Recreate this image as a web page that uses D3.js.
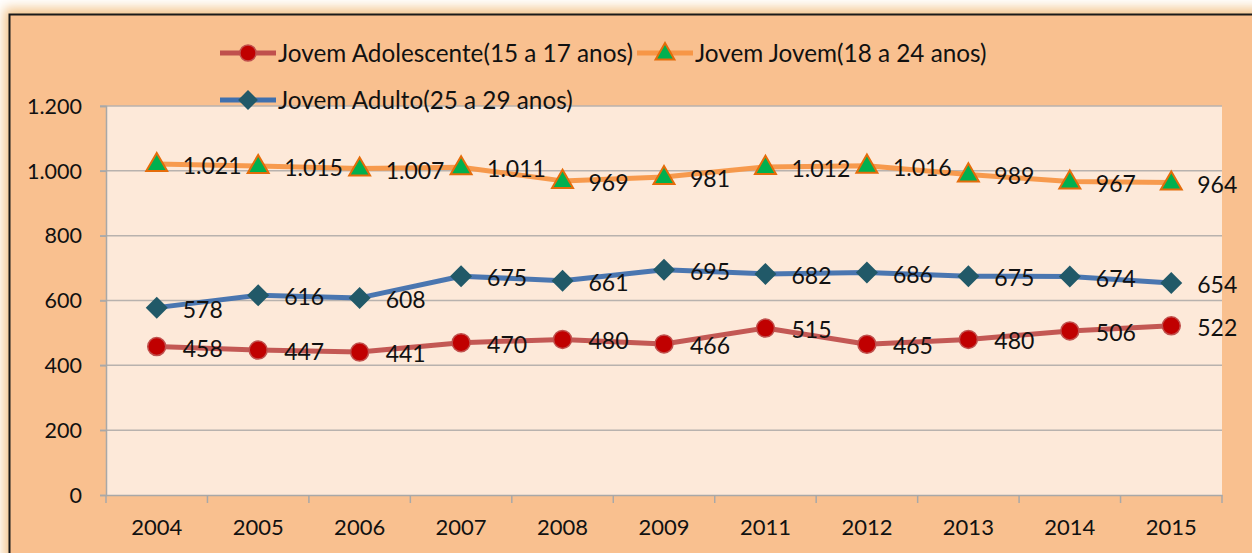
<!DOCTYPE html>
<html><head><meta charset="utf-8">
<script src="https://cdn.jsdelivr.net/npm/d3@7"></script>
<style>html,body{margin:0;padding:0;background:#fff;}svg{display:block;}</style>
</head><body>
<svg id="c" width="1252" height="553"></svg>
<script>
const categories = ["2004","2005","2006","2007","2008","2009","2011","2012","2013","2014","2015"];
const adolescente = [458,447,441,470,480,466,515,465,480,506,522];
const jovem = [1021,1015,1007,1011,969,981,1012,1016,989,967,964];
const adulto = [578,616,608,675,661,695,682,686,675,674,654];
const yTicks = [0,200,400,600,800,1000,1200];
const seriesNames = ["Jovem Adolescente(15 a 17 anos)","Jovem Jovem(18 a 24 anos)","Jovem Adulto(25 a 29 anos)"];

const W = 1252, H = 553;
const font = "Lato, 'Open Sans', sans-serif";
const svg = d3.select("#c");
const loc = d3.formatLocale({decimal:",", thousands:".", grouping:[3], currency:["R$",""]});
const fmt = loc.format(",d");

const defs = svg.append("defs");
const blur = defs.append("filter").attr("id","glow").attr("x","-5%").attr("y","-20%").attr("width","110%").attr("height","140%");
blur.append("feGaussianBlur").attr("stdDeviation",6);

// glow + frame
svg.append("rect").attr("x",0).attr("y",0).attr("width",W).attr("height",H).attr("fill","#fff");
svg.append("rect").attr("x",4).attr("y",8).attr("width",W+20).attr("height",H+20)
  .attr("fill","#F3C58C").attr("filter","url(#glow)");
svg.append("rect").attr("x",9.5).attr("y",14.5).attr("width",W+20).attr("height",H+20)
  .attr("fill","#F9C08F").attr("stroke","#1a1a1a").attr("stroke-width",2);

const m = {left:106, top:106, right:1222, bottom:495};
const x = d3.scaleBand().domain(categories).range([m.left, m.right]).padding(0);
const y = d3.scaleLinear().domain([0,1200]).range([m.bottom, m.top]);

svg.append("rect").attr("x",m.left).attr("y",m.top).attr("width",m.right-m.left).attr("height",m.bottom-m.top).attr("fill","#FDE9D9");

// gridlines
svg.append("g").selectAll("line").data(yTicks.filter(d=>d>0)).join("line")
  .attr("x1",m.left-6).attr("x2",m.right).attr("y1",d=>y(d)).attr("y2",d=>y(d))
  .attr("stroke","#B8B2AE").attr("stroke-width",1.5);

// y axis
const ya = svg.append("g").attr("transform",`translate(${m.left},0)`)
  .call(d3.axisLeft(y).tickValues(yTicks).tickSize(6).tickFormat(d=>fmt(d)));
ya.select(".domain").attr("stroke","#A8A8A8").attr("stroke-width",1.5);
ya.selectAll(".tick line").attr("stroke","#A8A8A8").attr("stroke-width",1.5);
ya.selectAll(".tick text").attr("font-family",font).attr("font-size",21.5).attr("fill","#111").attr("x",-24).attr("dy","0.34em");

// x axis
const xa = svg.append("g").attr("transform",`translate(0,${m.bottom})`)
  .call(d3.axisBottom(x).tickSize(0));
xa.select(".domain").attr("stroke","#A8A8A8").attr("stroke-width",1.5);
xa.selectAll(".tick text").attr("font-family",font).attr("font-size",22).attr("fill","#111").attr("y",24).attr("dy","0.71em");
const bounds = categories.map(c=>x(c)).concat([m.right]);
svg.append("g").selectAll("line").data(bounds).join("line")
  .attr("x1",d=>d).attr("x2",d=>d).attr("y1",m.bottom).attr("y2",m.bottom+8)
  .attr("stroke","#A8A8A8").attr("stroke-width",1.5);

const cx = c => x(c) + x.bandwidth()/2;
const line = d3.line().x((d,i)=>cx(categories[i])).y(d=>y(d));

const series = [
  {name:seriesNames[0], values:adolescente, line:"#C0504D", mark:"circle", fill:"#C00000", stroke:"#C0504D"},
  {name:seriesNames[1], values:jovem, line:"#F79646", mark:"triangle", fill:"#00B050", stroke:"#E46C0A"},
  {name:seriesNames[2], values:adulto, line:"#4070AE", mark:"diamond", fill:"#215968", stroke:"#215968"}
];

function drawMarker(g, s, px, py, scale=1){
  if(s.mark==="circle"){
    g.append("circle").attr("cx",px).attr("cy",py).attr("r",9*scale).attr("fill",s.fill).attr("stroke",s.stroke).attr("stroke-width",1.5);
  } else if(s.mark==="triangle"){
    const sym = d3.symbol().type(d3.symbolTriangle).size(190*scale*scale);
    g.append("path").attr("d",sym()).attr("transform",`translate(${px},${py+1})`).attr("fill",s.fill).attr("stroke",s.stroke).attr("stroke-width",2);
  } else {
    const r = 11*scale;
    g.append("path").attr("d",`M${px},${py-r}L${px+r},${py}L${px},${py+r}L${px-r},${py}Z`).attr("fill",s.fill);
  }
}

series.forEach(s=>{
  const g = svg.append("g");
  g.append("path").datum(s.values).attr("d",line).attr("fill","none").attr("stroke",s.line).attr("stroke-width",5).attr("stroke-linejoin","round").attr("opacity",0.95);
  s.values.forEach((v,i)=>drawMarker(g,s,cx(categories[i]),y(v)));
  g.selectAll("text").data(s.values).join("text")
    .attr("x",(d,i)=>cx(categories[i])+26).attr("y",d=>y(d)+2).attr("dy","0.35em")
    .attr("font-family",font).attr("font-size",23).attr("fill","#111").text(d=>fmt(d));
});

// legend
const legendPos = [{x:220,y:53},{x:637,y:53},{x:220,y:100}];
series.forEach((s,i)=>{
  const p = legendPos[i];
  const g = svg.append("g");
  g.append("line").attr("x1",p.x).attr("x2",p.x+56).attr("y1",p.y).attr("y2",p.y).attr("stroke",s.line).attr("stroke-width",5);
  drawMarker(g,s,p.x+28,p.y,0.9);
  g.append("text").attr("x",p.x+58).attr("y",p.y).attr("dy","0.35em").attr("font-family",font).attr("font-size",24.3).attr("fill","#111").text(s.name);
});
</script>
</body></html>
